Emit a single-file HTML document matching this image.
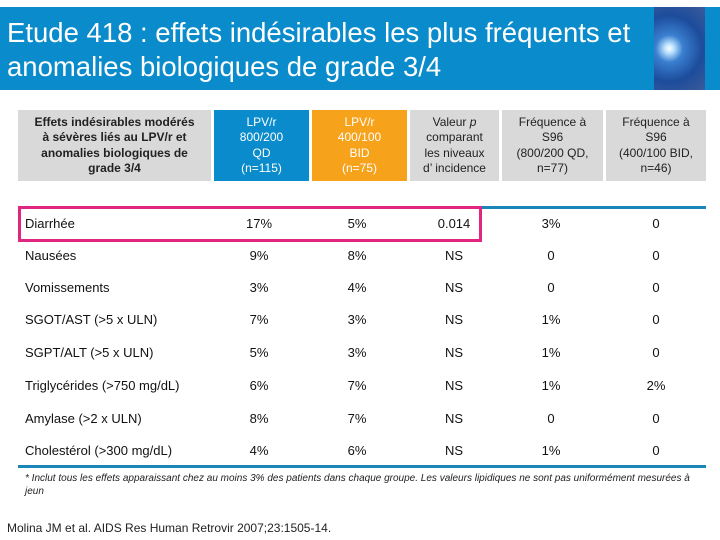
<!DOCTYPE html>
<html><head><meta charset="utf-8"><style>
body{margin:0;width:720px;height:540px;background:#fff;position:relative;overflow:hidden;font-family:"Liberation Sans",sans-serif;}
.abs{position:absolute;}
.title{left:0;top:7px;width:720px;height:83px;background:#0a8bcb;}
.title .t{left:7px;top:9px;color:#fff;font-size:27.5px;line-height:34px;}
.hc{top:110px;height:71px;display:flex;align-items:center;justify-content:center;text-align:center;font-size:12px;line-height:15.5px;font-weight:bold;color:#222;}
.hc>div{width:100%;}
.row{left:0;width:720px;height:20px;font-size:13px;color:#111;}
.row span{position:absolute;top:0;}
.lab{left:25px;}
.c{transform:translateX(-50%);}
</style></head><body>
<div class="abs title">
 <div class="abs t">Etude 418 : effets indésirables les plus fréquents et<br>anomalies biologiques de grade 3/4</div>
 <div class="abs" style="left:654px;top:0;width:51px;height:83px;background:radial-gradient(circle at 30% 50%,#fff 0,#bfe4ff 8%,#3a7fd0 25%,#1d4c9c 60%,#3a5c9a 100%);"></div>
</div>
<div class="abs hc" style="left:18px;width:193px;background:#d9d9d9;"><div>Effets indésirables modérés<br>à sévères liés au LPV/r et<br>anomalies biologiques de<br>grade 3/4</div></div>
<div class="abs hc" style="left:214px;width:95px;background:#0a8bcb;color:#fff;font-weight:normal;"><div>LPV/r<br>800/200<br>QD<br>(n=115)</div></div>
<div class="abs hc" style="left:312px;width:95px;background:#f7a21b;color:#fff;font-weight:normal;"><div>LPV/r<br>400/100<br>BID<br>(n=75)</div></div>
<div class="abs hc" style="left:410px;width:89px;background:#d9d9d9;font-weight:normal;"><div>Valeur <i>p</i><br>comparant<br>les niveaux<br>d’ incidence</div></div>
<div class="abs hc" style="left:502px;width:101px;background:#d9d9d9;font-weight:normal;"><div>Fréquence à<br>S96<br>(800/200 QD,<br>n=77)</div></div>
<div class="abs hc" style="left:606px;width:100px;background:#d9d9d9;font-weight:normal;"><div>Fréquence à<br>S96<br>(400/100 BID,<br>n=46)</div></div>
<div class="abs" style="left:481px;top:206px;width:225px;height:3px;background:#1a86b8;"></div>
<div class="abs" style="left:18px;top:206px;width:458px;height:30px;border:3px solid #e0267f;"></div>
<div id="rows"></div>
<div class="abs" style="left:18px;top:465px;width:688px;height:3px;background:#1a86b8;"></div>
<div class="abs" style="left:25px;top:472px;width:680px;font-size:10px;line-height:13px;font-style:italic;color:#222;">* Inclut tous les effets apparaissant chez au moins 3% des patients dans chaque groupe. Les valeurs lipidiques ne sont pas uniformément mesurées à jeun</div>
<div class="abs" style="left:7px;top:521px;font-size:12px;color:#222;">Molina JM et al. AIDS Res Human Retrovir 2007;23:1505-14.</div>
<script>
const labels=["Diarrhée","Nausées","Vomissements","SGOT/AST (>5 x ULN)","SGPT/ALT (>5 x ULN)","Triglycérides (>750 mg/dL)","Amylase (>2 x ULN)","Cholestérol (>300 mg/dL)"];
const qd=["17%","9%","3%","7%","5%","6%","8%","4%"];
const bid=["5%","8%","4%","3%","3%","7%","7%","6%"];
const pval=["0.014","NS","NS","NS","NS","NS","NS","NS"];
const s96qd=["3%","0","0","1%","1%","1%","0","1%"];
const s96bid=["0","0","0","0","0","2%","0","0"];
const rowsTop=[216,248,280,312,345,378,411,443];
const cols=[259,357,454,551,656];
const host=document.getElementById('rows');
labels.forEach((l,i)=>{
 const r=document.createElement('div');
 r.className='abs row';r.style.top=rowsTop[i]+'px';
 
 
 const s=document.createElement('span');s.className='lab';s.textContent=l;
 
 
 r.appendChild(s);
 [qd[i],bid[i],pval[i],s96qd[i],s96bid[i]].forEach((v,j)=>{
  const c=document.createElement('span');c.className='c';c.style.left=cols[j]+'px';c.textContent=v;
  
  
  r.appendChild(c);
 });
 host.appendChild(r);
});
</script>
</body></html>
